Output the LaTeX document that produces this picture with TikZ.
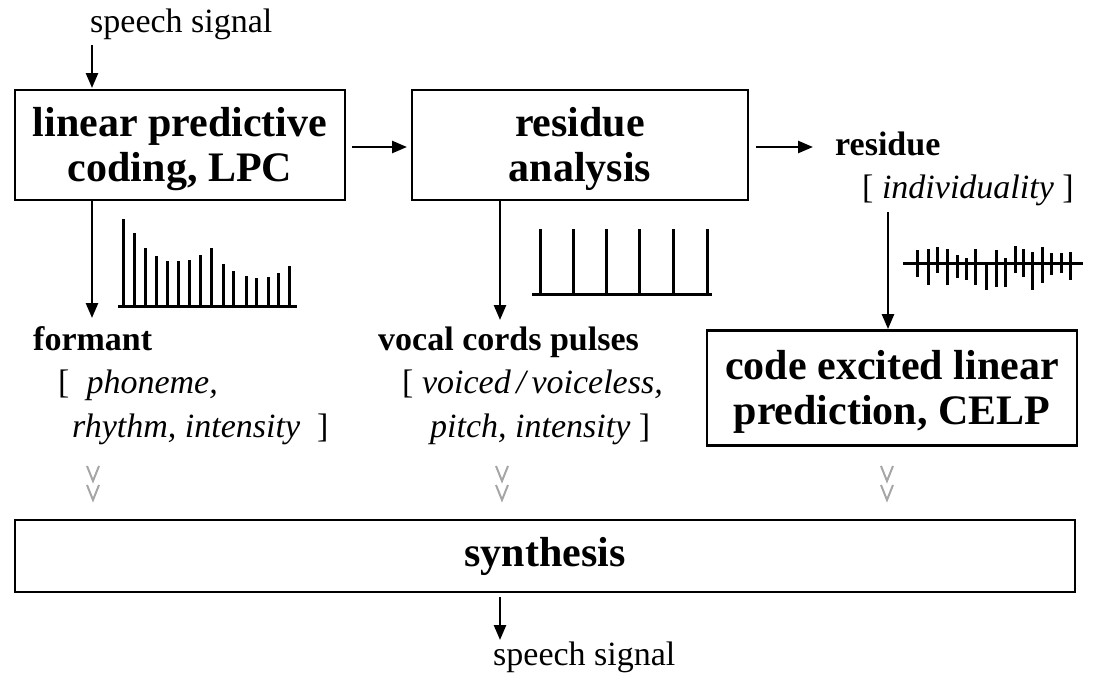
\documentclass[tikz,border=0pt]{standalone}
\usepackage{fontspec}
\setmainfont{Liberation Serif}
\usetikzlibrary{arrows.meta}
\tikzset{
  box/.style={draw, line width=2.8pt, inner sep=0pt},
  flow/.style={line width=2.5pt, -{Triangle[length=15pt,width=12pt]}},
  bigb/.style={font=\fontsize{42}{45}\selectfont\bfseries, align=center},
  medb/.style={font=\fontsize{34}{34}\selectfont\bfseries, anchor=base west, inner sep=0pt},
  ital/.style={font=\fontsize{34}{34}\selectfont, anchor=base west, inner sep=0pt},
  plain/.style={font=\fontsize{34}{34}\selectfont, anchor=base west, inner sep=0pt},
  bar/.style={line width=3pt},
  chev/.style={draw=black!35, line width=2pt},
}
\begin{document}
\begin{tikzpicture}[x=1pt,y=-1pt]
\useasboundingbox (0,0) rectangle (1094,675);
% top input
\node[plain] (in) at (90,32) {speech signal};
\coordinate (inA) at (92,45);
\coordinate (inB) at (92,88);
\draw[flow] (inA) -- (inB);
% boxes
\node[box, minimum width=330pt, minimum height=110pt] (lpc) at (180,145) {};
\node[bigb] at ([yshift=-4pt]lpc.center) {linear predictive\\coding, LPC};
\node[box, minimum width=336pt, minimum height=110pt] (res) at (580,145) {};
\node[bigb] at ([yshift=-4pt]res.center) {residue\\analysis};
\node[box, minimum width=370pt, minimum height=115pt] (celp) at (892,388) {};
\node[bigb] at ([yshift=-4pt]celp.center) {code excited linear\\prediction, CELP};
\node[box, minimum width=1060pt, minimum height=72pt] (syn) at (545,556) {};
\node[bigb] at (syn.center) {synthesis};
% horizontal arrows
\coordinate (a1) at (352,147);
\coordinate (a2) at (407,147);
\draw[flow] (a1) -- (a2);
\coordinate (b1) at (756,147);
\coordinate (b2) at (813,147);
\draw[flow] (b1) -- (b2);
\node[medb] (resl) at (835,155) {residue};
\node[ital] (indiv) at (862,198) {[ \textit{individuality} ]};
% vertical arrows
\coordinate (lpcd) at (92,200);
\coordinate (fmt) at (92,318);
\draw[flow] (lpcd) -- (fmt);
\coordinate (resd) at (500,200);
\coordinate (voc) at (500,320);
\draw[flow] (resd) -- (voc);
\coordinate (indd) at (888,212);
\draw[flow] (indd) -- (celp.north -| indd);
% labels
\node[medb] (fl) at (33,350) {formant};
\node[ital] (f2) at (58,393) {[\ \ \textit{phoneme,}};
\node[ital] (f3) at (72,437) {\textit{rhythm, intensity} \ ]};
\node[medb] (vl) at (378,350) {vocal cords pulses};
\node[ital] (v2) at (402,393) {[ \textit{voiced\,/\,voiceless,}};
\node[ital] (v3) at (430,437) {\textit{pitch, intensity} ]};
% spectrum 1
\draw[bar] (118,306) -- (297,306);
\foreach \x/\t in {123/219,134/233,145/248,156/256,167/261,178/261,189/260,200/255,211/248,223/264,233/271,246/276,256/278,268/277,278/273,289/266}
  \draw[bar] (\x,306) -- (\x,\t);
% spectrum 2
\draw[bar] (532,294) -- (712,294);
\foreach \x in {540,573,606,639,673,707}
  \draw[bar] (\x,294) -- (\x,229);
% spectrum 3
\draw[bar] (903,263) -- (1083,263);
\foreach \x/\a/\b in {917/250/277,928/249/285,937/247/273,947/249/285,957/255/278,966/258/280,975/249/285,986/262/290,996/250/287,1005/258/287,1015/246/273,1023/249/277,1032/252/290,1042/247/283,1051/253/275,1061/253/273,1070/252/280}
  \draw[bar] (\x,\a) -- (\x,\b);
% faint chevrons
\foreach \x in {93,502,887}{
  \draw[chev] (\x-6,466) -- (\x,481) -- (\x+6,466);
  \draw[chev] (\x-6,485) -- (\x,500) -- (\x+6,485);
}
% output
\coordinate (o1) at (500,597);
\coordinate (o2) at (500,640);
\draw[flow] (o1) -- (o2);
\node[plain] (out) at (493,665) {speech signal};
\end{tikzpicture}
\end{document}
